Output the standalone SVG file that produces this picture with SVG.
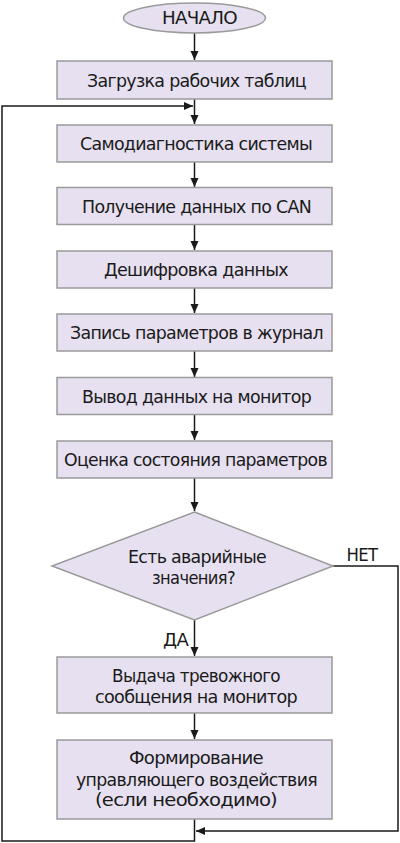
<svg xmlns="http://www.w3.org/2000/svg" width="400" height="843" viewBox="0 0 400 843">
<defs>
<marker id="ah" markerWidth="10" markerHeight="10" refX="9" refY="5" orient="auto" markerUnits="userSpaceOnUse">
<path d="M0,1 L9,5 L0,9 Z" fill="#1a1a1a"/>
</marker>
<style>
.n{fill:#e6e0f0;stroke:#9a9a9a;stroke-width:1.5}
.t{font-family:"DejaVu Sans Condensed","DejaVu Sans",sans-serif;font-size:17px;fill:#1a1a1a;text-anchor:middle;letter-spacing:-0.6px}
.c{fill:none;stroke:#1a1a1a;stroke-width:1.5}
</style>
</defs>
<rect width="400" height="843" fill="#ffffff"/>
<g id="connectors">
<path class="c" d="M194.5,33 V60" marker-end="url(#ah)"/>
<path class="c" d="M194.5,99 V124" marker-end="url(#ah)"/>
<path class="c" d="M194.5,162 V187" marker-end="url(#ah)"/>
<path class="c" d="M194.5,224 V250" marker-end="url(#ah)"/>
<path class="c" d="M194.5,288 V313" marker-end="url(#ah)"/>
<path class="c" d="M194.5,351 V377" marker-end="url(#ah)"/>
<path class="c" d="M194.5,414 V440" marker-end="url(#ah)"/>
<path class="c" d="M194.5,477 V511" marker-end="url(#ah)"/>
<path class="c" d="M194.5,620 V656" marker-end="url(#ah)"/>
<path class="c" d="M194.5,713 V739" marker-end="url(#ah)"/>
<path class="c" d="M333,566 H398 V831 H196" marker-end="url(#ah)"/>
<path class="c" d="M194.5,819 V841 H2 V106 H193" marker-end="url(#ah)"/>
<text class="t" x="362" y="561" textLength="31" lengthAdjust="spacingAndGlyphs">НЕТ</text>
<text class="t" x="175.5" y="646" textLength="25" lengthAdjust="spacingAndGlyphs">ДА</text>
</g>
<g id="start">
<ellipse class="n" cx="194.5" cy="18" rx="71" ry="15"/>
<text class="t" x="199.5" y="24" textLength="75" lengthAdjust="spacingAndGlyphs">НАЧАЛО</text>
</g>
<g id="load">
<rect class="n" x="57" y="61" width="275" height="38"/>
<text class="t" x="196.5" y="87" textLength="219" lengthAdjust="spacingAndGlyphs">Загрузка рабочих таблиц</text>
</g>
<g id="selftest">
<rect class="n" x="57" y="125" width="275" height="37"/>
<text class="t" x="196" y="150" textLength="232" lengthAdjust="spacingAndGlyphs">Самодиагностика системы</text>
</g>
<g id="receive">
<rect class="n" x="57" y="187.5" width="275" height="37"/>
<text class="t" x="196.5" y="213" textLength="229" lengthAdjust="spacingAndGlyphs">Получение данных по CAN</text>
</g>
<g id="decode">
<rect class="n" x="57" y="251" width="275" height="37"/>
<text class="t" x="196" y="276" textLength="184" lengthAdjust="spacingAndGlyphs">Дешифровка данных</text>
</g>
<g id="log">
<rect class="n" x="57" y="314" width="275" height="37"/>
<text class="t" x="196.5" y="339" textLength="253" lengthAdjust="spacingAndGlyphs">Запись параметров в журнал</text>
</g>
<g id="display">
<rect class="n" x="57" y="377.5" width="275" height="37"/>
<text class="t" x="196.5" y="403" textLength="229" lengthAdjust="spacingAndGlyphs">Вывод данных на монитор</text>
</g>
<g id="assess">
<rect class="n" x="57" y="441" width="275" height="37"/>
<text class="t" x="195.5" y="466" textLength="263" lengthAdjust="spacingAndGlyphs">Оценка состояния параметров</text>
</g>
<g id="decision">
<polygon class="n" points="194.5,512 333,566 194.5,620 52,566"/>
<text class="t" x="197" y="563" textLength="138" lengthAdjust="spacingAndGlyphs">Есть аварийные</text>
<text class="t" x="193.5" y="584" textLength="83" lengthAdjust="spacingAndGlyphs">значения?</text>
</g>
<g id="alarm">
<rect class="n" x="57" y="657" width="275" height="56"/>
<text class="t" x="196" y="682" textLength="168" lengthAdjust="spacingAndGlyphs">Выдача тревожного</text>
<text class="t" x="196" y="703" textLength="202" lengthAdjust="spacingAndGlyphs">сообщения на монитор</text>
</g>
<g id="control">
<rect class="n" x="57" y="740" width="275" height="79"/>
<text class="t" x="196" y="764" textLength="134" lengthAdjust="spacingAndGlyphs">Формирование</text>
<text class="t" x="196.5" y="786" textLength="241" lengthAdjust="spacingAndGlyphs">управляющего воздействия</text>
<text class="t" x="186" y="806" textLength="182" lengthAdjust="spacingAndGlyphs">(если необходимо)</text>
</g>
</svg>
